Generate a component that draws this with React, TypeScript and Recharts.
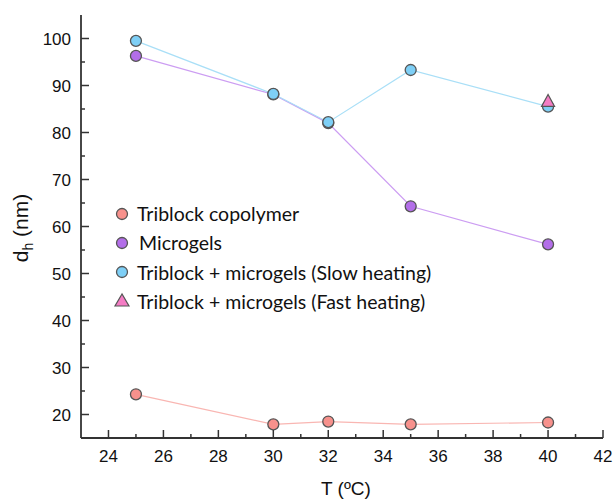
import React from "react";
import { LineChart, Line, XAxis, YAxis } from "recharts";

const temps = [25, 30, 32, 35, 40];
const triblock = [24.3, 17.9, 18.5, 17.9, 18.3];
const microgels = [96.3, 88.1, 82.0, 64.3, 56.2];
const slowHeating = [99.5, 88.2, 82.2, 93.3, 85.5];
const fastTemps = [40];
const fastHeating = [86.4];

const xTicks = [24, 25, 26, 27, 28, 29, 30, 31, 32, 33, 34, 35, 36, 37, 38, 39, 40, 41, 42];
const yTicks = [20, 25, 30, 35, 40, 45, 50, 55, 60, 65, 70, 75, 80, 85, 90, 95, 100];

const seriesNames = [
  "Triblock copolymer",
  "Microgels",
  "Triblock + microgels (Slow heating)",
  "Triblock + microgels (Fast heating)",
];

const toPts = (xs: number[], ys: number[]) => xs.map((x, i) => ({ x, y: ys[i] }));

const AX = "#333";
const FONT = "'Liberation Sans', Arial, sans-serif";
const txt = { fontFamily: FONT };

const colors = [
  { fill: "#f7918c", line: "#f9b6b2" },
  { fill: "#b36ee9", line: "#cc9df2" },
  { fill: "#7ecff6", line: "#a9dff7" },
  { fill: "#f47cc4", line: "#f47cc4" },
];

const Circle = (fill: string) => (p: any) =>
  p.cx == null ? <g /> : <circle cx={p.cx} cy={p.cy} r={5.5} fill={fill} stroke="#555" strokeWidth={1.3} />;

const Tri = (fill: string) => (p: any) => {
  if (p.cx == null) return <g />;
  const { cx, cy } = p;
  return (
    <polygon
      points={`${cx},${cy - 8} ${cx - 6.5},${cy + 4} ${cx + 6.5},${cy + 4}`}
      fill={fill}
      stroke="#555"
      strokeWidth={1.2}
    />
  );
};

const BottomTick = (p: any) => {
  const v = p.payload.value;
  const major = v % 2 === 0;
  return (
    <g>
      <line x1={p.x} x2={p.x} y1={p.y} y2={p.y - (major ? 8 : 4)} stroke={AX} strokeWidth={1.5} />
      {major && (
        <text x={p.x} y={p.y + 24} textAnchor="middle" fontSize={17} style={txt} fill="#111">
          {v}
        </text>
      )}
    </g>
  );
};

const TopTick = (p: any) => {
  const v = p.payload.value;
  const major = v % 2 === 0;
  return <line x1={p.x} x2={p.x} y1={p.y} y2={p.y + (major ? 8 : 4)} stroke={AX} strokeWidth={1.5} />;
};

const LeftTick = (p: any) => {
  const v = p.payload.value;
  const major = v % 10 === 0;
  return (
    <g>
      <line x1={p.x} x2={p.x + (major ? 8 : 4)} y1={p.y} y2={p.y} stroke={AX} strokeWidth={1.5} />
      {major && (
        <text x={p.x - 10} y={p.y + 6} textAnchor="end" fontSize={17} style={txt} fill="#111">
          {v}
        </text>
      )}
    </g>
  );
};

const RightTick = (p: any) => {
  const v = p.payload.value;
  const major = v % 10 === 0;
  return <line x1={p.x} x2={p.x - (major ? 8 : 4)} y1={p.y} y2={p.y} stroke={AX} strokeWidth={1.5} />;
};

const LegendBox = () => (
  <div
    style={{
      position: "absolute",
      left: 110,
      top: 199,
      fontFamily: "Lato, 'Open Sans', sans-serif",
      fontSize: 19.5,
      color: "#111",
    }}
  >
    {seriesNames.map((n, i) => (
      <div key={n} style={{ display: "flex", alignItems: "center", height: 29.3, whiteSpace: "nowrap" }}>
        <svg width={24} height={20} style={{ marginRight: 3 }}>
          {i < 3 ? (
            <circle cx={12} cy={10} r={5.5} fill={colors[i].fill} stroke="#555" strokeWidth={1.3} />
          ) : (
            <polygon points="12,2 5,14 19,14" fill={colors[i].fill} stroke="#555" strokeWidth={1.2} />
          )}
        </svg>
        <span style={{ marginLeft: i === 1 ? 2 : 0 }}>{n}</span>
      </div>
    ))}
  </div>
);

export default function App() {
  return (
    <div style={{ position: "absolute", left: 0, top: 0, width: 614, height: 501, background: "#fff" }}>
      <LineChart width={614} height={501} margin={{ top: 15, right: 11, bottom: 0, left: 0 }}>
        <XAxis
          xAxisId="b"
          dataKey="x"
          type="number"
          domain={[23, 42]}
          ticks={xTicks}
          interval={0}
          height={63}
          tickSize={0}
          tickMargin={0}
          tickLine={false}
          axisLine={{ stroke: AX, strokeWidth: 1.8 }}
          tick={BottomTick}
          allowDataOverflow
          label={{
            content: () => (
              <text x={346} y={495} textAnchor="middle" fontSize={19} style={txt} fill="#111">
                T (ºC)
              </text>
            ),
          }}
        />
        <XAxis
          xAxisId="t"
          orientation="top"
          dataKey="x"
          type="number"
          domain={[23, 42]}
          ticks={xTicks}
          interval={0}
          height={0}
          tickSize={0}
          tickMargin={0}
          tickLine={false}
          axisLine={{ stroke: AX, strokeWidth: 1.8 }}
          tick={TopTick}
          allowDataOverflow
        />
        <YAxis
          yAxisId="l"
          type="number"
          domain={[15, 105]}
          ticks={yTicks}
          interval={0}
          width={81}
          tickSize={0}
          tickMargin={0}
          tickLine={false}
          axisLine={{ stroke: AX, strokeWidth: 1.8 }}
          tick={LeftTick}
          allowDataOverflow
          label={{
            content: () => (
              <text
                x={28}
                y={228}
                transform="rotate(-90, 28, 228)"
                textAnchor="middle"
                fontSize={21}
                style={txt}
                fill="#111"
              >
                d
                <tspan fontSize={14} dy={5}>h</tspan>
                <tspan dy={-5}> (nm)</tspan>
              </text>
            ),
          }}
        />
        <YAxis
          yAxisId="r"
          orientation="right"
          type="number"
          domain={[15, 105]}
          ticks={yTicks}
          interval={0}
          width={0}
          tickSize={0}
          tickMargin={0}
          tickLine={false}
          axisLine={{ stroke: AX, strokeWidth: 1.8 }}
          tick={RightTick}
          allowDataOverflow
        />
        <Line
          xAxisId="b"
          yAxisId="l"
          data={toPts(temps, triblock)}
          dataKey="y"
          name={seriesNames[0]}
          stroke={colors[0].line}
          strokeWidth={1.2}
          dot={Circle(colors[0].fill)}
          isAnimationActive={false}
        />
        <Line
          xAxisId="b"
          yAxisId="l"
          data={toPts(temps, microgels)}
          dataKey="y"
          name={seriesNames[1]}
          stroke={colors[1].line}
          strokeWidth={1.2}
          dot={Circle(colors[1].fill)}
          isAnimationActive={false}
        />
        <Line
          xAxisId="b"
          yAxisId="l"
          data={toPts(temps, slowHeating)}
          dataKey="y"
          name={seriesNames[2]}
          stroke={colors[2].line}
          strokeWidth={1.2}
          dot={Circle(colors[2].fill)}
          isAnimationActive={false}
        />
        <Line
          xAxisId="b"
          yAxisId="l"
          data={toPts(fastTemps, fastHeating)}
          dataKey="y"
          name={seriesNames[3]}
          stroke="none"
          dot={Tri(colors[3].fill)}
          isAnimationActive={false}
        />
      </LineChart>
      <LegendBox />
    </div>
  );
}
